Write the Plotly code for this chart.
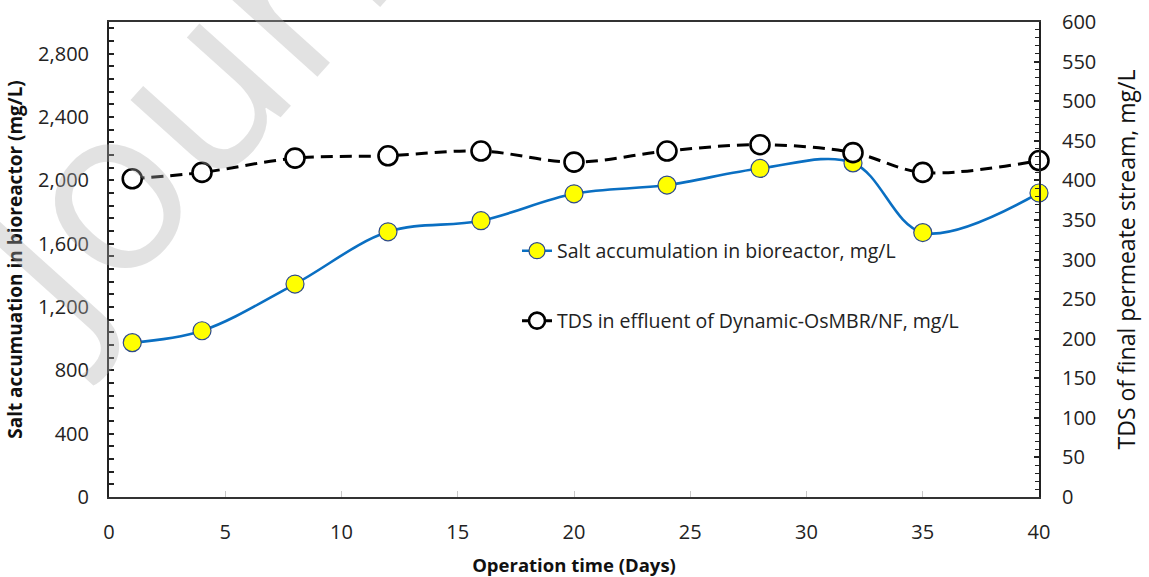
import plotly.graph_objects as go

days = [1, 4, 8, 12, 16, 20, 24, 28, 32, 35, 40]
salt_bioreactor = [975, 1050, 1345, 1675, 1745, 1915, 1970, 2075, 2110, 1670, 1920]
tds_effluent = [402, 410, 428, 431, 437, 423, 437, 445, 435, 410, 425]

salt_name = "Salt accumulation in bioreactor, mg/L"
tds_name = "TDS in effluent of Dynamic-OsMBR/NF, mg/L"

FONT = "Open Sans"

fig = go.Figure()
fig.add_trace(go.Scatter(
    x=days, y=salt_bioreactor, name=salt_name, mode="lines+markers",
    line=dict(color="#0A6FC2", width=2.6, shape="spline", smoothing=1.0),
    marker=dict(size=18, color="#FFFF00", line=dict(color="#2E4A8C", width=1.2)),
    yaxis="y", legend="legend", cliponaxis=False,
))
fig.add_trace(go.Scatter(
    x=days, y=tds_effluent, name=tds_name, mode="lines+markers",
    line=dict(color="black", width=3, dash="12px,7px", shape="spline", smoothing=1.0),
    marker=dict(size=19, color="white", line=dict(color="black", width=2.6)),
    yaxis="y2", legend="legend2", cliponaxis=False,
))

tickfont = dict(family=FONT, size=20, color="#222222")

fig.update_layout(
    width=1149, height=577,
    margin=dict(l=109, r=110, t=22, b=80, autoexpand=False),
    paper_bgcolor="white", plot_bgcolor="white",
    font=dict(family=FONT, color="#111111"),
    xaxis=dict(
        range=[0, 40], tick0=0, dtick=5, showgrid=False, zeroline=False, automargin=False,
        showline=True, linecolor="#333333", linewidth=2, mirror=True,
        ticks="inside", ticklen=6, tickcolor="#C8C8C8", tickwidth=1,
        tickfont=tickfont, ticklabelstandoff=16,
        title=dict(text="<b>Operation time (Days)</b>", font=dict(family=FONT, size=18.5, color="#111111"), standoff=16),
    ),
    yaxis=dict(
        range=[0, 3000], tick0=0, dtick=400, tickformat=",d", showgrid=False, zeroline=False, automargin=False,
        showline=True, linecolor="#222222", linewidth=2,
        ticks="inside", ticklen=5, tickcolor="#222222", tickwidth=1.5,
        minor=dict(dtick=80, ticks="inside", ticklen=5, tickcolor="#222222", tickwidth=1.5, showgrid=False),
        tickfont=tickfont, ticklabelstandoff=14,
        title=dict(text="<b>Salt accumuation in bioreactor (mg/L)</b>", font=dict(family=FONT, size=19, color="#111111"), standoff=10),
    ),
    yaxis2=dict(
        range=[0, 600], tick0=0, dtick=50, overlaying="y", side="right", automargin=False,
        showgrid=False, zeroline=False, showline=True, linecolor="#222222", linewidth=2,
        ticks="inside", ticklen=5, tickcolor="#222222", tickwidth=1.5,
        minor=dict(dtick=10, ticks="inside", ticklen=4, tickcolor="#222222", tickwidth=1.2, showgrid=False),
        tickfont=tickfont, ticklabelstandoff=17,
        title=dict(text="TDS of final permeate stream, mg/L", font=dict(family=FONT, size=23, color="#111111"), standoff=24),
    ),
    legend=dict(x=(517 - 109) / 930, y=(497 - 251) / 475, xanchor="left", yanchor="middle", bgcolor="rgba(0,0,0,0)",
                font=dict(family=FONT, size=19.5, color="#222222")),
    legend2=dict(x=(517 - 109) / 930, y=(497 - 321) / 475, xanchor="left", yanchor="middle", bgcolor="rgba(0,0,0,0)",
                 font=dict(family=FONT, size=19.5, color="#222222")),
    showlegend=True,
)

fig.add_annotation(
    text="Journ", xref="paper", yref="paper", x=(195 - 109) / 930, y=(497 - 78) / 475,
    xanchor="center", yanchor="middle", showarrow=False, textangle=-48,
    font=dict(family="Open Sans", size=230, color="rgba(175,175,175,0.36)"),
)

fig.write_html("out.html")
